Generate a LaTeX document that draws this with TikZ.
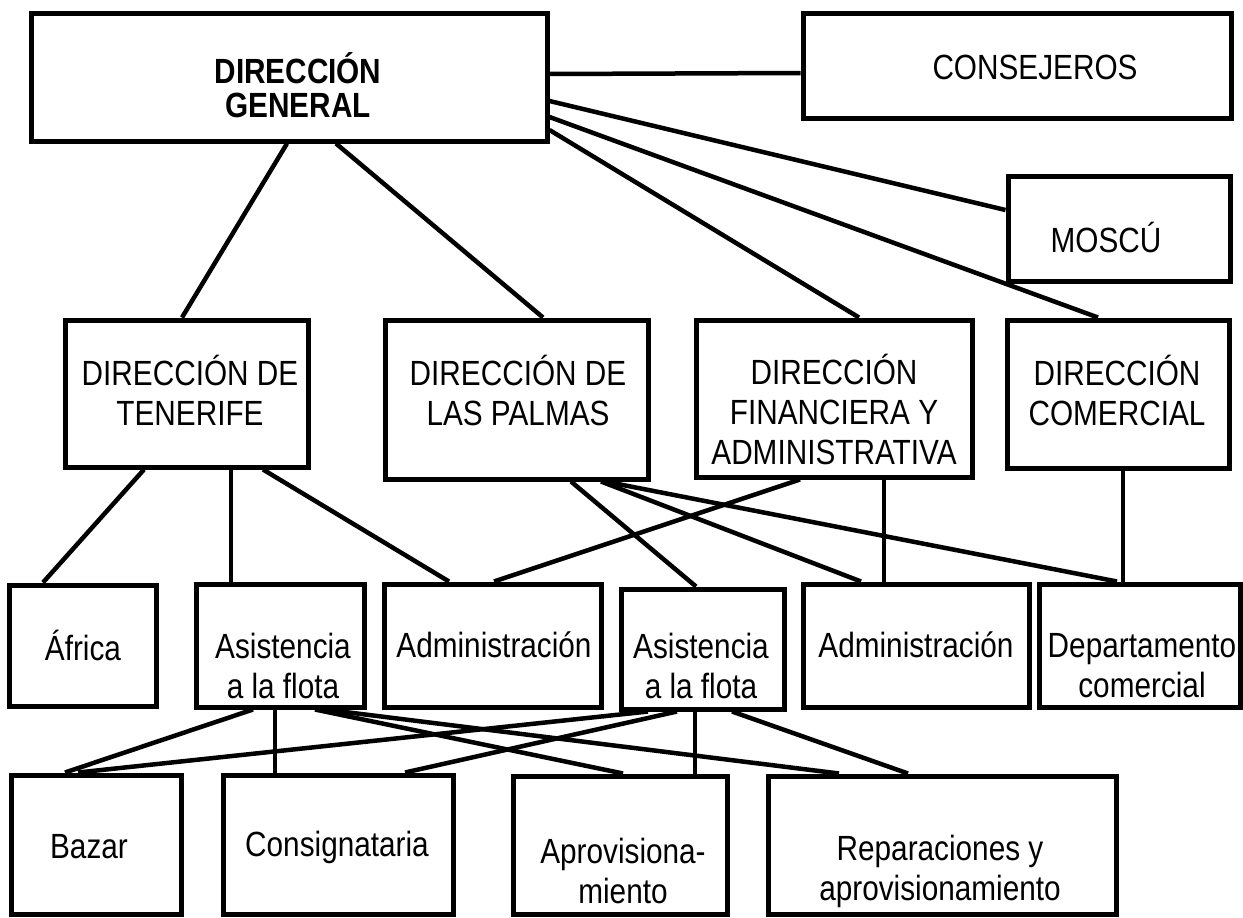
\documentclass[tikz,border=0pt]{standalone}
\usepackage{fontspec}
\setmainfont{Liberation Sans}[FakeStretch=0.85]
\usepackage{tikz}
\newcommand{\boxfont}{\fontsize{35}{40}\selectfont}

\begin{document}
\begin{tikzpicture}[x=1pt,y=-1pt,
	box/.style={draw,line width=5pt,inner sep=0pt},
	txt/.style={align=center,inner sep=0pt,font=\boxfont},
	ln/.style={line width=4.5pt}]
	\useasboundingbox (0,0) rectangle (1243,918);
	% top
	\node[box,minimum width=516pt,minimum height=128pt](dg) at (289,77){};
	\node[box,minimum width=428pt,minimum height=105pt](cons) at (1017,65.5){};
	\node[box,minimum width=222pt,minimum height=105pt](mos) at (1119,228.5){};
	% direcciones
	\node[box,minimum width=243pt,minimum height=147pt](ten) at (186.5,393.5){};
	\node[box,minimum width=263pt,minimum height=159pt](pal) at (516.5,399.5){};
	\node[box,minimum width=276pt,minimum height=157pt](fin) at (834,398.5){};
	\node[box,minimum width=222pt,minimum height=148pt](com) at (1118,394){};
	% departamentos
	\node[box,minimum width=147pt,minimum height=121pt](afr) at (82.5,645.5){};
	\node[box,minimum width=168pt,minimum height=123pt](as1) at (280,645.5){};
	\node[box,minimum width=217pt,minimum height=123pt](ad1) at (492.5,645.5){};
	\node[box,minimum width=163pt,minimum height=120pt](as2) at (702.5,649){};
	\node[box,minimum width=226pt,minimum height=123pt](ad2) at (916,645.5){};
	\node[box,minimum width=201pt,minimum height=123pt](dep) at (1139.5,645.5){};
	% servicios
	\node[box,minimum width=170pt,minimum height=139pt](baz) at (96,844.5){};
	\node[box,minimum width=230pt,minimum height=139pt](con) at (338,844.5){};
	\node[box,minimum width=214pt,minimum height=138pt](apr) at (620,845){};
	\node[box,minimum width=348pt,minimum height=138pt](rep) at (942,845){};
	% texts
	\node[txt,font=\fontsize{35}{34}\selectfont\bfseries](dgt) at (298,85){DIRECCIÓN\\GENERAL};
	\node[txt](const) at (1035,67){CONSEJEROS};
	\node[txt](most) at (1106,237){MOSCÚ};
	\node[txt](tent) at (190,390){DIRECCIÓN DE\\TENERIFE};
	\node[txt](palt) at (518,390){DIRECCIÓN DE\\LAS PALMAS};
	\node[txt](fint) at (834,409){DIRECCIÓN\\FINANCIERA Y\\ADMINISTRATIVA};
	\node[txt](comt) at (1117,390){DIRECCIÓN\\COMERCIAL};
	\node[txt](afrt) at (83,645){África};
	\node[txt](as1t) at (283,666){Asistencia\\a la flota};
	\node[txt](ad1t) at (494,645){Administración};
	\node[txt](as2t) at (701,666){Asistencia\\a la flota};
	\node[txt](ad2t) at (916,645){Administración};
	\node[txt](dept) at (1142,666){Departamento\\comercial};
	\node[txt](bazt) at (89,847){Bazar};
	\node[txt](cont) at (337,847){Consignataria};
	\node[txt](aprt) at (623,871){Aprovisiona-\\miento};
	\node[txt](rept) at (940,871){Reparaciones y\\aprovisionamiento};
	% lines from the top
	\draw[ln]([yshift=3pt]dg.east)--([yshift=-7.5pt]cons.west);
	\draw[ln]([yshift=-24pt]dg.east)--([yshift=18.5pt]mos.west);
	\draw[ln]([yshift=-40pt]dg.east)--([xshift=-20pt]com.north);
	\draw[ln]([yshift=-53pt]dg.east)--([xshift=25pt]fin.north);
	\draw[ln]([xshift=47pt]dg.south)--([xshift=26.5pt]pal.north);
	\draw[ln]([xshift=-2pt]dg.south)--([xshift=-4.5pt]ten.north);
	% direcciones to departamentos
	\draw[ln]([xshift=-42.5pt]ten.south)--([xshift=-39.5pt]afr.north);
	\draw[ln]([xshift=44.5pt]ten.south)--([xshift=-49pt]as1.north);
	\draw[ln]([xshift=76.5pt]ten.south)--([xshift=-43.5pt]ad1.north);
	\draw[ln]([xshift=-34pt]fin.south)--([xshift=1.5pt]ad1.north);
	\draw[ln]([xshift=54.5pt]pal.south)--([xshift=-6.5pt]as2.north);
	\draw[ln]([xshift=84.5pt]pal.south)--([xshift=-55pt]ad2.north);
	\draw[ln]([xshift=88.5pt]pal.south)--([xshift=-22.5pt]dep.north);
	\draw[ln]([xshift=50pt]fin.south)--([xshift=-32pt]ad2.north);
	\draw[ln]([xshift=5pt]com.south)--([xshift=-16.5pt]dep.north);
	% asistencia to servicios
	\draw[ln]([xshift=-27pt]as1.south)--([xshift=-31pt]baz.north);
	\draw[ln]([xshift=-5pt]as1.south)--([xshift=-63pt]con.north);
	\draw[ln]([xshift=35pt]as1.south)--([xshift=3pt]apr.north);
	\draw[ln]([xshift=45pt]as1.south)--([xshift=-103pt]rep.north);
	\draw[ln]([xshift=-54.5pt]as2.south)--([xshift=-18pt]baz.north);
	\draw[ln]([xshift=-25.5pt]as2.south)--([xshift=67pt]con.north);
	\draw[ln]([xshift=-7.5pt]as2.south)--([xshift=75pt]apr.north);
	\draw[ln]([xshift=29.5pt]as2.south)--([xshift=-34pt]rep.north);
\end{tikzpicture}
\end{document}
